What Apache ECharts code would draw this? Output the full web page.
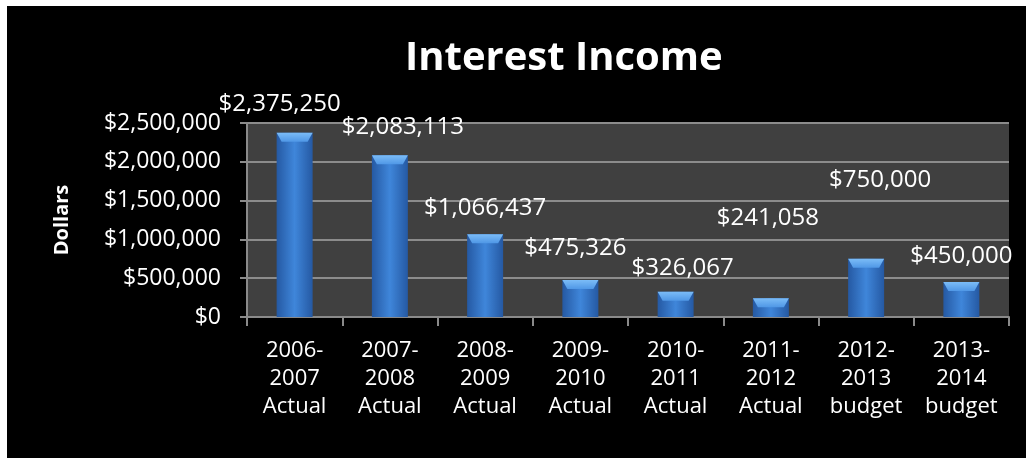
<!DOCTYPE html>
<html>
<head>
<meta charset="utf-8">
<script src="https://cdn.jsdelivr.net/npm/echarts@6/dist/echarts.min.js"></script>
<style>
  html, body { margin: 0; padding: 0; background: #ffffff; }
  #chart { position: absolute; left: 7px; top: 6px; width: 1019px; height: 452px; background: #000000; }
</style>
</head>
<body>
<div id="chart"></div>
<script>
// Fiscal years shown along the category axis
const categories = [
  '2006-\n2007\nActual', '2007-\n2008\nActual', '2008-\n2009\nActual', '2009-\n2010\nActual',
  '2010-\n2011\nActual', '2011-\n2012\nActual', '2012-\n2013\nbudget', '2013-\n2014\nbudget'
];
// Interest income per year, in dollars
const interestIncome = [2375250, 2083113, 1066437, 475326, 326067, 241058, 750000, 450000];
// Value axis ticks
const yTicks = [0, 500000, 1000000, 1500000, 2000000, 2500000];

// Hand-placed nudges for the data labels [dx, dy]
const labelNudge = [[-15, -12], [13, -11], [0, -9], [-5, -15], [7, -7], [-3, -63], [14, -62], [0, -9]];

const FONT = '"Open Sans", "Noto Sans", sans-serif';
const money = v => '$' + Math.round(v).toLocaleString('en-US');

const chart = echarts.init(document.getElementById('chart'), null, { renderer: 'canvas' });

const barBody = new echarts.graphic.LinearGradient(0, 0, 1, 0, [
  { offset: 0, color: '#2559a3' },
  { offset: 0.5, color: '#3f86da' },
  { offset: 1, color: '#2559a3' }
]);

chart.setOption({
  backgroundColor: '#000000',
  animation: false,
  title: {
    text: 'Interest Income',
    left: 393,
    top: 28,
    textStyle: { color: '#ffffff', fontFamily: FONT, fontWeight: 'bold', fontSize: 40 }
  },
  grid: {
    left: 240, right: 17, top: 117, bottom: 141,
    show: true, backgroundColor: '#404040', borderWidth: 0
  },
  xAxis: {
    type: 'category',
    data: categories,
    axisLine: { lineStyle: { color: '#8a8a8a', width: 2 } },
    axisTick: { show: true, length: 9, lineStyle: { color: '#8a8a8a', width: 2 } },
    axisLabel: { color: '#ffffff', fontFamily: FONT, fontSize: 22, lineHeight: 28, margin: 20, interval: 0 }
  },
  yAxis: {
    type: 'value',
    min: yTicks[0],
    max: yTicks[yTicks.length - 1],
    interval: yTicks[1] - yTicks[0],
    name: 'Dollars',
    nameLocation: 'middle',
    nameRotate: 90,
    nameGap: 175,
    nameTextStyle: { color: '#ffffff', fontFamily: FONT, fontWeight: 'bold', fontSize: 20 },
    axisLine: { show: true, lineStyle: { color: '#8a8a8a', width: 2 } },
    axisTick: { show: true, length: 7, lineStyle: { color: '#8a8a8a', width: 2 } },
    splitLine: { lineStyle: { color: '#8c8c8c', width: 2 } },
    axisLabel: { color: '#ffffff', fontFamily: FONT, fontSize: 23, margin: 26, formatter: money }
  },
  series: [
    {
      type: 'bar',
      barWidth: 36,
      data: interestIncome.map((v, i) => ({
        value: v,
        label: { offset: labelNudge[i] }
      })),
      itemStyle: { color: barBody },
      label: {
        show: true,
        position: 'top',
        color: '#ffffff',
        fontFamily: FONT,
        fontSize: 24,
        formatter: p => money(p.value)
      },
      z: 2
    },
    {
      // Bevelled cap on top of each bar
      type: 'custom',
      data: interestIncome.map((v, i) => [i, v]),
      z: 3,
      silent: true,
      renderItem: (params, api) => {
        const p = api.coord([api.value(0), api.value(1)]);
        const half = 18, inset = 5, depth = 9;
        return {
          type: 'polygon',
          shape: {
            points: [
              [p[0] - half, p[1]], [p[0] + half, p[1]],
              [p[0] + half - inset, p[1] + depth], [p[0] - half + inset, p[1] + depth]
            ]
          },
          style: {
            fill: new echarts.graphic.LinearGradient(0, 0, 0, 1, [
              { offset: 0, color: '#7bbcf7' },
              { offset: 1, color: '#4f97e6' }
            ])
          }
        };
      }
    }
  ]
});
</script>
</body>
</html>
